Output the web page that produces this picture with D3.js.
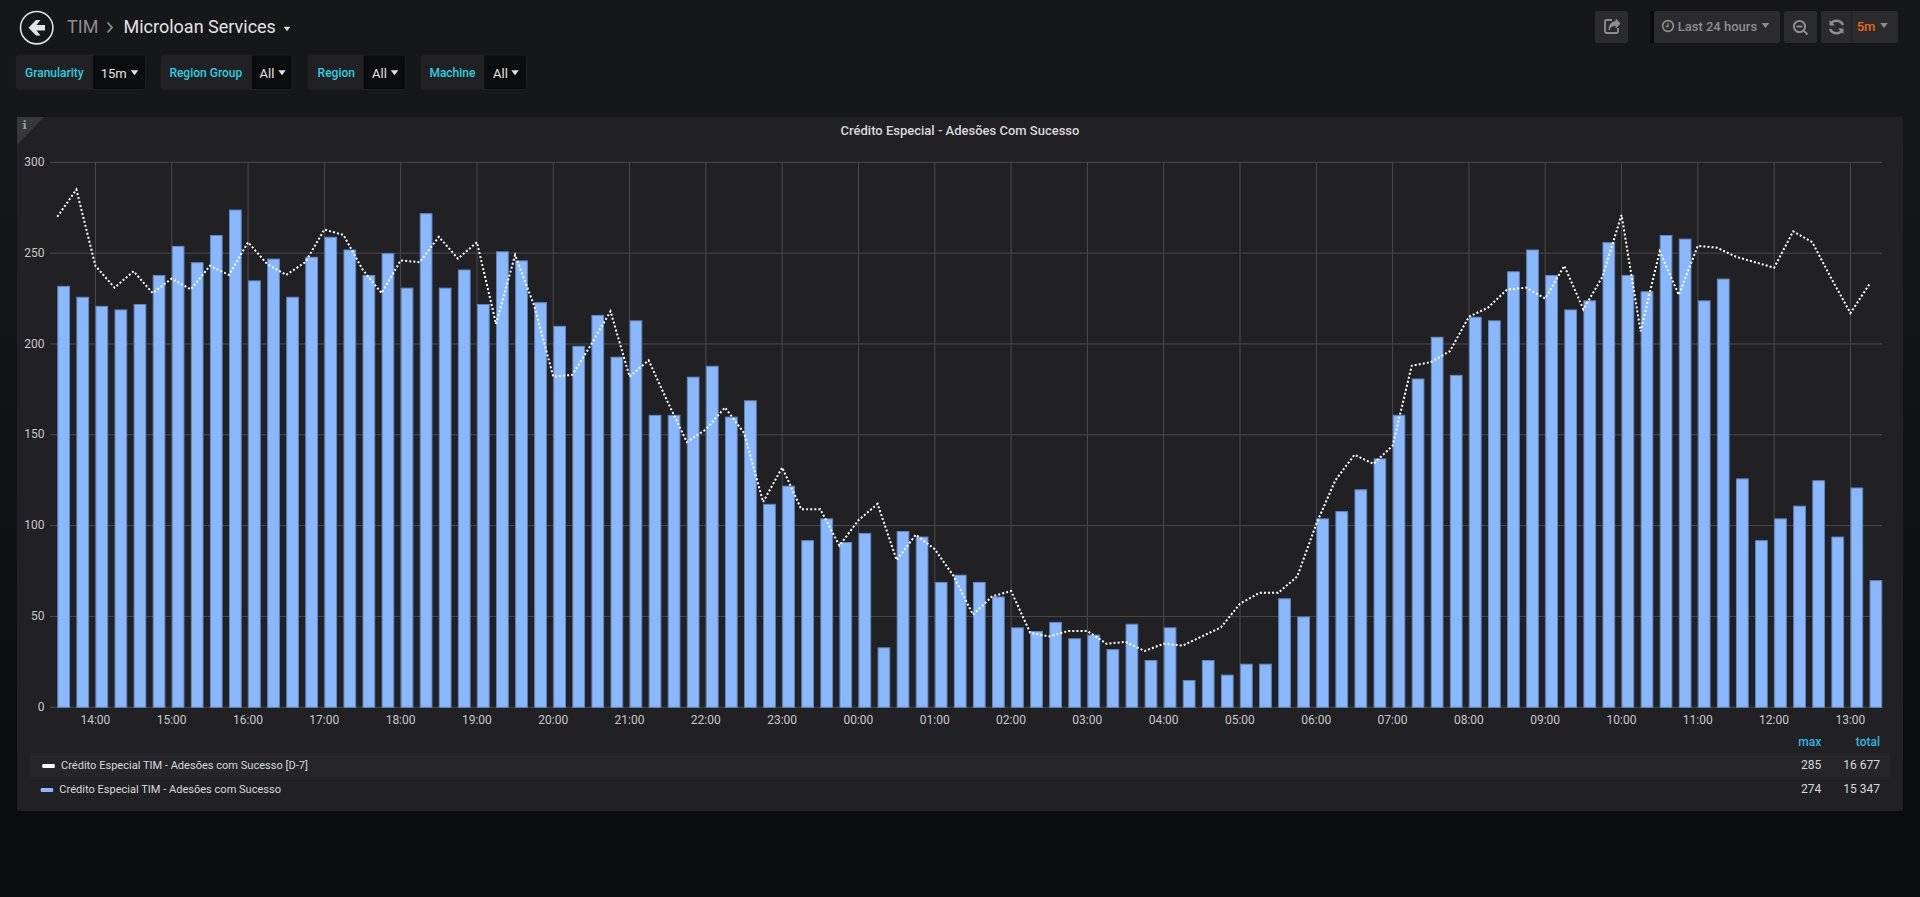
<!DOCTYPE html>
<html><head><meta charset="utf-8">
<script src="https://cdnjs.cloudflare.com/ajax/libs/d3/7.8.5/d3.min.js"></script>
<style>
html,body{margin:0;padding:0;width:1920px;height:897px;overflow:hidden;background:linear-gradient(to bottom,#161719 0,#161719 120px,#0b0c0e 800px)}
svg{display:block;font-family:Roboto,sans-serif}
.axis path{display:none}.axis line{display:none}
.axis text{font-family:Roboto,sans-serif;font-size:12px;fill:#c8c8ca}
</style></head><body>
<svg id="c" width="1920" height="897"></svg>
<script>
const chartTitle = "Crédito Especial - Adesões Com Sucesso";
const seriesNames = ["Crédito Especial TIM - Adesões com Sucesso [D-7]", "Crédito Especial TIM - Adesões com Sucesso"];
const statHeaders = ["max", "total"];
const statsD7 = ["285", "16 677"];
const statsNow = ["274", "15 347"];
const yTicks = [0, 50, 100, 150, 200, 250, 300];
const variables = [["Granularity", "15m"], ["Region Group", "All"], ["Region", "All"], ["Machine", "All"]];
const barValues = [232,226,221,219,222,238,254,245,260,274,235,247,226,248,259,252,238,250,231,272,231,241,222,251,246,223,210,199,216,193,213,161,161,182,188,160,169,112,122,92,104,91,96,33,97,94,69,73,69,61,44,42,47,38,40,32,46,26,44,15,26,18,24,24,60,50,104,108,120,137,161,181,204,183,215,213,240,252,238,219,224,256,238,229,260,258,224,236,126,92,104,111,125,94,121,70];
const lineValues = [270,285,243,231,240,228,236,230,243,238,256,244,238,245,263,260,241,228,246,245,259,247,256,211,249,221,182,183,200,218,182,191,168,146,153,165,151,113,132,109,109,89,103,112,81,95,87,72,51,61,64,41,39,42,42,35,36,31,35,34,39,44,57,63,63,72,101,125,139,134,144,188,190,196,215,220,230,231,225,243,219,237,271,207,251,227,254,253,248,245,242,262,256,236,217,233];

const svg = d3.select("#c");
const t0 = new Date(2020, 0, 1, 13, 30);
const step = 15 * 60 * 1000;
const times = barValues.map((_, i) => new Date(+t0 + i * step));
const x = d3.scaleTime().domain([t0, new Date(+t0 + 96 * step)]).range([57.3, 1888.6]);
const y = d3.scaleLinear().domain([0, 300]).range([707.3, 162.3]);
const plotL = 50, plotR = 1882;

// ---- panel
svg.append("rect").attr("x", 17).attr("y", 117).attr("width", 1886).attr("height", 694).attr("rx", 2).attr("fill", "#212124");
svg.append("path").attr("d", "M17 117H44L17 145Z").attr("fill", "#38383b");
svg.append("text").attr("x", 24.7).attr("y", 129).attr("text-anchor", "middle").attr("font-family", "DejaVu Serif").attr("font-weight", "bold").attr("font-size", 11).attr("fill", "#a0a0a0").text("i");
svg.append("text").attr("x", 960).attr("y", 135).attr("text-anchor", "middle").attr("font-size", 13).attr("font-weight", 500).attr("fill", "#d8d9da").text(chartTitle);

// ---- grid
const ticksX = x.ticks(d3.timeHour.every(1)).filter(d => x(d) < plotR);
svg.append("g").selectAll("line").data(yTicks).join("line")
  .attr("x1", plotL).attr("x2", plotR).attr("y1", d => y(d)).attr("y2", d => y(d))
  .attr("stroke", "#4a4a4c").attr("stroke-width", 1);
svg.append("g").selectAll("line").data(ticksX).join("line")
  .attr("x1", d => x(d)).attr("x2", d => x(d)).attr("y1", y(300)).attr("y2", y(0))
  .attr("stroke", "#4a4a4c").attr("stroke-width", 1);

// ---- axes
svg.append("g").attr("class", "axis").attr("transform", `translate(44.5,-0.8)`)
  .call(d3.axisLeft(y).tickValues(yTicks).tickSize(0).tickPadding(0));
svg.append("g").attr("class", "axis").attr("transform", `translate(-0.6,${y(0) + 5})`)
  .call(d3.axisBottom(x).tickValues(ticksX).tickSize(0).tickPadding(3).tickFormat(d3.timeFormat("%H:%M")));

// ---- bars
svg.append("g").selectAll("rect").data(barValues).join("rect")
  .attr("x", (d, i) => x(times[i]) + .5)
  .attr("width", (d, i) => x(new Date(+times[i] + step * 2 / 3)) - x(times[i]) - 1)
  .attr("y", d => y(d) + .5)
  .attr("height", d => y(0) - y(d) - .5)
  .attr("fill", "#8ab8ff").attr("stroke", "#6586bd").attr("stroke-width", 1);

// ---- D-7 line
const line = d3.line().x((d, i) => x(times[i])).y(d => y(d));
svg.append("path").attr("d", line(lineValues)).attr("fill", "none")
  .attr("stroke", "#fff").attr("stroke-width", 2).attr("stroke-dasharray", "2 2.1");

// ---- legend
svg.append("rect").attr("x", 30).attr("y", 753).attr("width", 1860).attr("height", 24).attr("fill", "#262628");
const legendRows = [
  {name: seriesNames[0], color: "#fff", sx: 42.3, tx: 61, by: 768.5, stats: statsD7},
  {name: seriesNames[1], color: "#8ab8ff", sx: 40.7, tx: 59.3, by: 792.5, stats: statsNow}
];
const statX = [1821.3, 1880];
legendRows.forEach(r => {
  svg.append("rect").attr("x", r.sx).attr("y", r.by - 4.5).attr("width", 12.5).attr("height", 4).attr("rx", 1).attr("fill", r.color);
  svg.append("text").attr("x", r.tx).attr("y", r.by).attr("font-size", 11.05).attr("fill", "#d8d9da").text(r.name);
  r.stats.forEach((s, i) => svg.append("text").attr("x", statX[i]).attr("y", r.by).attr("text-anchor", "end").attr("font-size", 12).attr("fill", "#d8d9da").text(s));
});
statHeaders.forEach((s, i) => svg.append("text").attr("x", statX[i]).attr("y", 746).attr("text-anchor", "end").attr("font-size", 12).attr("font-weight", 500).attr("fill", "#33b5e5").text(s));

// ---- header
const caret = (cx, cy, w, col) => svg.append("path").attr("d", `M${cx - w / 2} ${cy - w / 3}H${cx + w / 2}L${cx} ${cy + w / 3}Z`).attr("fill", col);
svg.append("circle").attr("cx", 36.7).attr("cy", 27.7).attr("r", 16.2).attr("fill", "none").attr("stroke", "#e3e3e3").attr("stroke-width", 1.6);
svg.append("path").attr("d", "M28.5 27.7L36 20H40.5L36.5 25H45V30.5H36.5L40.5 35.5H36Z").attr("fill", "#e3e3e3");
svg.append("text").attr("x", 67).attr("y", 33).attr("font-size", 18).attr("fill", "#8e8e8e").text("TIM");
svg.append("path").attr("d", "M107.5 22.5L112 27.5L107.5 32.5").attr("fill", "none").attr("stroke", "#8e8e8e").attr("stroke-width", 1.8);
svg.append("text").attr("x", 123.5).attr("y", 33).attr("font-size", 18).attr("fill", "#e3e3e3").text("Microloan Services");
caret(287, 29, 6.5, "#d8d9da");

// variable boxes
const boxes = [[16, 93, 145.5, 25, 100.7, 134.5], [161, 252, 292, 169.4, 259.6, 282], [308, 363.7, 405.5, 317.6, 372, 394.5], [421, 484.5, 526.5, 429.4, 493, 515]];
variables.forEach((v, i) => {
  const b = boxes[i];
  svg.append("rect").attr("x", b[0]).attr("y", 55).attr("width", b[2] - b[0]).attr("height", 34.5).attr("rx", 2.5).attr("fill", "#0b0c0e").attr("stroke", "#1f1f22");
  svg.append("path").attr("d", `M${b[1]} 55H${b[0] + 2.5}Q${b[0]} 55 ${b[0]} 57.5V87Q${b[0]} 89.5 ${b[0] + 2.5} 89.5H${b[1]}Z`).attr("fill", "#212124");
  svg.append("text").attr("x", b[3]).attr("y", 77).attr("font-size", 12).attr("font-weight", 500).attr("fill", "#2ccfe0").text(v[0]);
  svg.append("text").attr("x", b[4]).attr("y", 78).attr("font-size", 13).attr("fill", "#e3e3e3").text(v[1]);
  caret(b[5], 72.7, 7.5, "#e3e3e3");
});

// right toolbar
const btn = (a, b) => svg.append("rect").attr("x", a).attr("y", 11).attr("width", b - a).attr("height", 32).attr("rx", 2).attr("fill", "#2b2b2e");
svg.append("rect").attr("x", 1650).attr("y", 11).attr("width", 6).attr("height", 32).attr("fill", "#0b0c0e");
btn(1595, 1628); btn(1654, 1780); btn(1784, 1817); btn(1821, 1898);
svg.append("line").attr("x1", 1851.5).attr("x2", 1851.5).attr("y1", 11).attr("y2", 43).attr("stroke", "#232326");
const ic = "#8e8e8e";
svg.append("path").attr("d", "M1612 20H1606.5Q1605 20 1605 21.5V31.5Q1605 33 1606.5 33H1616.5Q1618 33 1618 31.5V28").attr("fill", "none").attr("stroke", ic).attr("stroke-width", 1.8);
svg.append("path").attr("d", "M1616 19L1620 23.5L1616 28V25.5C1612 25.5 1610 27 1609 30C1609 25 1611 21.5 1616 21.5Z").attr("fill", ic).attr("stroke", ic).attr("stroke-width", .8);
svg.append("circle").attr("cx", 1668).attr("cy", 26).attr("r", 5.4).attr("fill", "none").attr("stroke", ic).attr("stroke-width", 1.6);
svg.append("path").attr("d", "M1668 23V26.5H1665.5").attr("fill", "none").attr("stroke", ic).attr("stroke-width", 1.3);
svg.append("text").attr("x", 1677.7).attr("y", 31).attr("font-size", 13).attr("font-weight", 500).attr("fill", ic).text("Last 24 hours");
caret(1765.5, 25.5, 7.5, ic);
svg.append("circle").attr("cx", 1799.5).attr("cy", 26.5).attr("r", 5.6).attr("fill", "none").attr("stroke", ic).attr("stroke-width", 2);
svg.append("path").attr("d", "M1796.5 26.5H1802.5M1803.5 30.5L1807.5 34.5").attr("fill", "none").attr("stroke", ic).attr("stroke-width", 2);
svg.append("path").attr("d", "M1843 25A7 7 0 0 0 1831 23.5M1830 29A7 7 0 0 0 1842 30.5").attr("fill", "none").attr("stroke", ic).attr("stroke-width", 2.4);
svg.append("path").attr("d", "M1829.5 20V25.5H1835ZM1843.5 34V28.5H1838Z").attr("fill", ic);
svg.append("text").attr("x", 1856.7).attr("y", 31).attr("font-size", 13).attr("font-weight", 500).attr("fill", "#eb6a12").text("5m");
caret(1884, 25.5, 7.5, ic);
</script>
</body></html>
